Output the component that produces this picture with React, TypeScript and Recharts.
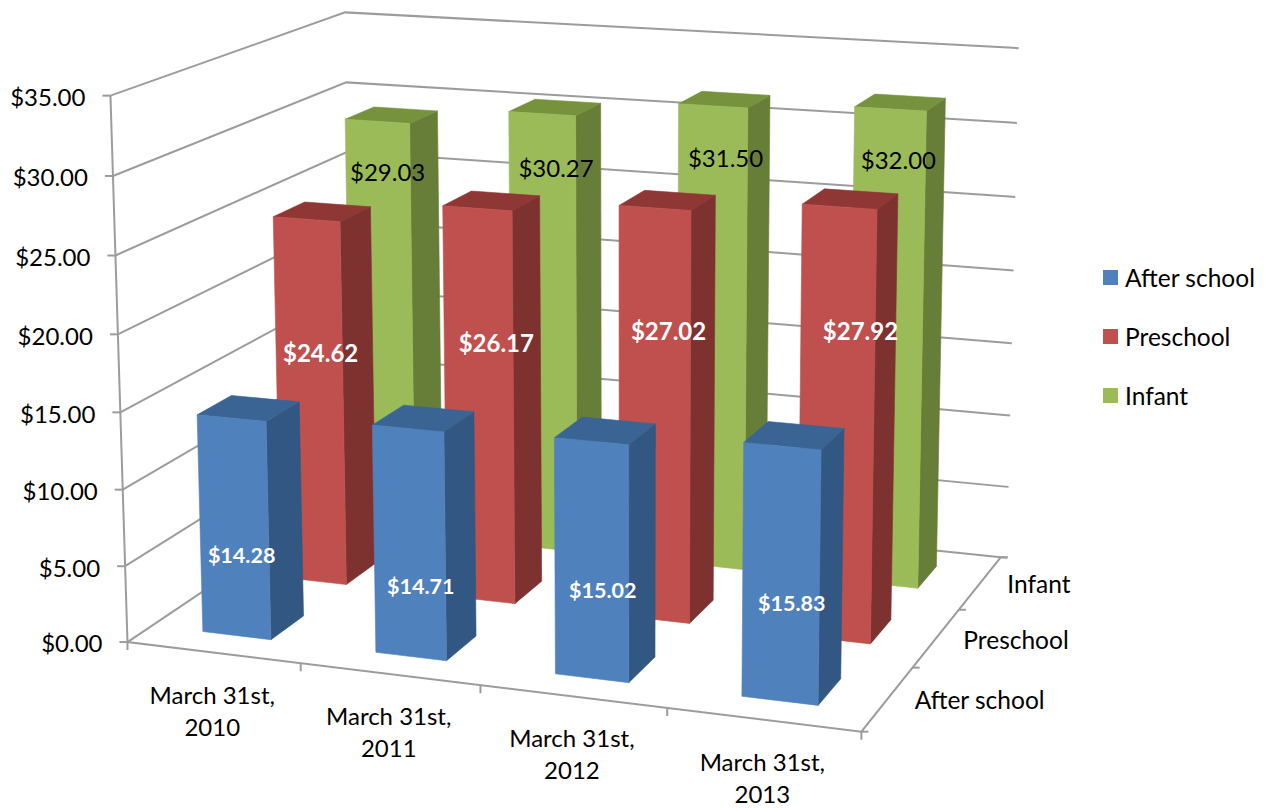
import { BarChart, Bar, XAxis, YAxis, CartesianGrid, Legend, LabelList } from "recharts";

const CATEGORIES = ["March 31st, 2010", "March 31st, 2011", "March 31st, 2012", "March 31st, 2013"];
const SERIES_NAMES = ["After school", "Preschool", "Infant"];
const AFTER_SCHOOL = [14.28, 14.71, 15.02, 15.83];
const PRESCHOOL = [24.62, 26.17, 27.02, 27.92];
const INFANT = [29.03, 30.27, 31.5, 32.0];
const Y_TICKS = [0, 5, 10, 15, 20, 25, 30, 35];

const rows = CATEGORIES.map((category, i) => ({
  category,
  "After school": AFTER_SCHOOL[i],
  Preschool: PRESCHOOL[i],
  Infant: INFANT[i],
}));

const FONT = "Lato, sans-serif";
const GRID = "#9c9c9c";

// plot rectangle handed to recharts, every mark is then projected from it
const PL = 128;
const PT = 97;
const PW = 734;
const PH = 543;
const BAR_SIZE = 73;
const BAR_DEPTH = 0.14;
const Y_AXIS_W = 60;
const X_AXIS_H = 40;

const STYLES = [
  { front: "#4f81bd", top: "#3a6494", side: "#315782", text: "#fff", weight: 700, size: 21.5, labelAt: 0.36 },
  { front: "#c0504d", top: "#8f3735", side: "#7e3230", text: "#fff", weight: 700, size: 24, labelAt: 0.66 },
  { front: "#9bbb59", top: "#76923c", side: "#677e38", text: "#000", weight: 400, size: 24, labelAt: 0.88 },
];

// the data labels were hand placed in the original, so each has its own nudge in px
const LABEL_NUDGE = [
  [[4, -3], [8, 11], [8, -4], [8, -7]],
  [[9, 9], [15, 0], [11, -19], [20, -25]],
  [[7, 1], [11, 1], [10, -4], [6, -7]],
];

// camera fit: cube position (u, v, w) -> where it lands in the picture
const ANCHORS = [
  [0, 0, 0, 128, 640],
  [0, 1, 0, 109, 97],
  [1, 0, 0, 861, 733],
  [0, 0, 1, 352, 493],
  [0, 1, 1, 347, 11],
  [1, 0, 1, 1000, 556],
  [1, 1, 1, 1012, 48],
  [0.25, 0, 0, 301, 662],
  [0.5, 0, 0, 480, 685],
  [0.75, 0, 0, 668, 709],
  [1, 0, 1 / 3, 913, 668],
  [1, 0, 2 / 3, 960, 609],
];

function solveCamera() {
  const n = 11;
  const m = Array.from({ length: n }, () => new Array(n + 1).fill(0));
  const add = (r: number[], b: number) => {
    for (let i = 0; i < n; i++) {
      for (let j = 0; j < n; j++) m[i][j] += r[i] * r[j];
      m[i][n] += r[i] * b;
    }
  };
  for (const [u, v, w, X, Y] of ANCHORS) {
    add([u, v, w, 1, 0, 0, 0, 0, -X * u, -X * v, -X * w], X);
    add([0, 0, 0, 0, u, v, w, 1, -Y * u, -Y * v, -Y * w], Y);
  }
  for (let c = 0; c < n; c++) {
    let p = c;
    for (let r = c + 1; r < n; r++) if (Math.abs(m[r][c]) > Math.abs(m[p][c])) p = r;
    [m[c], m[p]] = [m[p], m[c]];
    for (let r = 0; r < n; r++) {
      if (r === c) continue;
      const f = m[r][c] / m[c][c];
      for (let k = c; k <= n; k++) m[r][k] -= f * m[c][k];
    }
  }
  return m.map((row, i) => row[n] / row[i]);
}

const cam = solveCamera();

function project(u: number, v: number, w: number): [number, number] {
  const d = cam[8] * u + cam[9] * v + cam[10] * w + 1;
  return [
    (cam[0] * u + cam[1] * v + cam[2] * w + cam[3]) / d,
    (cam[4] * u + cam[5] * v + cam[6] * w + cam[7]) / d,
  ];
}

const pts = (list: [number, number][]) => list.map((p) => `${p[0]},${p[1]}`).join(" ");
const toU = (x: number) => (x - PL) / PW;
const toV = (y: number) => (PT + PH - y) / PH;
const rowCentre = (s: number) => (s + 0.5) / SERIES_NAMES.length;

const barShape = (s: number) => (props: any) => {
  const { x, y, width, height } = props;
  const st = STYLES[s];
  const u0 = toU(x);
  const u1 = toU(x + width);
  const vt = toV(y);
  const vb = toV(y + height);
  const w0 = rowCentre(s) - BAR_DEPTH / 2;
  const w1 = rowCentre(s) + BAR_DEPTH / 2;
  return (
    <g strokeWidth={0.6} strokeLinejoin="round">
      <polygon fill={st.side} stroke={st.side} points={pts([project(u1, vb, w0), project(u1, vb, w1), project(u1, vt, w1), project(u1, vt, w0)])} />
      <polygon fill={st.top} stroke={st.top} points={pts([project(u0, vt, w0), project(u1, vt, w0), project(u1, vt, w1), project(u0, vt, w1)])} />
      <polygon fill={st.front} stroke={st.front} points={pts([project(u0, vb, w0), project(u1, vb, w0), project(u1, vt, w0), project(u0, vt, w0)])} />
    </g>
  );
};

const barLabel = (s: number) => (props: any) => {
  const box = props.viewBox ?? props;
  const st = STYLES[s];
  const u = toU(box.x + box.width / 2);
  const vt = toV(box.y);
  const w0 = rowCentre(s) - BAR_DEPTH / 2;
  const [px, py] = project(u + 0.004, vt * st.labelAt, w0);
  const [dx, dy] = LABEL_NUDGE[s][props.index ?? 0];
  return (
    <text x={px + dx} y={py + dy} dy="0.35em" textAnchor="middle" fontFamily={FONT} fontSize={st.size} fontWeight={st.weight} fill={st.text}>
      ${Number(props.value).toFixed(2)}
    </text>
  );
};

function gridLine(props: any) {
  const v = toV(props.y1);
  const a = project(0, v, 0);
  const b = project(0, v, 1);
  const c = project(1, v, 1);
  return (
    <g key={props.key}>
      <polyline fill="none" stroke={GRID} strokeWidth={2} points={pts([a, b, c, [c[0] + 6, c[1] + 0.5]])} />
      <line x1={a[0] - 8} y1={a[1]} x2={a[0]} y2={a[1]} stroke={GRID} strokeWidth={2} />
    </g>
  );
}

function yTick(props: any) {
  const v = toV(props.y);
  const [px, py] = project(0, v, 0);
  return (
    <text x={px - 25} y={py + 2} dy="0.35em" textAnchor="end" fontFamily={FONT} fontSize={24} fill="#000">
      ${Number(props.payload.value).toFixed(2)}
    </text>
  );
}

function xTick(props: any) {
  const [px, py] = project(toU(props.x), 0, 0);
  const [first, second] = String(props.payload.value).split(" 31st, ");
  return (
    <text textAnchor="middle" fontFamily={FONT} fontSize={24} fill="#000">
      <tspan x={px - 1} y={py + 51}>{first} 31st,</tspan>
      <tspan x={px - 1} y={py + 83}>{second}</tspan>
    </text>
  );
}

// axis lines and the depth axis, recharts has no third axis of its own
function Frame() {
  const steps = CATEGORIES.map((_, i) => i / CATEGORIES.length).concat(1);
  const depth = SERIES_NAMES.map((_, i) => i / SERIES_NAMES.length).concat(1);
  return (
    <g>
      <polyline fill="none" stroke={GRID} strokeWidth={2} points={pts([project(0, 1, 0), project(0, 0, 0), project(1, 0, 0), project(1, 0, 1)])} />
      {steps.map((u) => {
        const [px, py] = project(u, 0, 0);
        return <line key={u} x1={px} y1={py} x2={px} y2={py + 8} stroke={GRID} strokeWidth={2} />;
      })}
      {depth.map((w) => {
        const [px, py] = project(1, 0, w);
        return <line key={w} x1={px} y1={py} x2={px + 7} y2={py} stroke={GRID} strokeWidth={2} />;
      })}
      {SERIES_NAMES.map((name, s) => {
        const [px, py] = project(1, 0, rowCentre(s));
        return (
          <text key={name} x={px + 27} y={py + 2} dy="0.35em" fontFamily={FONT} fontSize={24.5} fill="#000">
            {name}
          </text>
        );
      })}
    </g>
  );
}

function renderLegend() {
  return (
    <div style={{ fontFamily: FONT, fontSize: 24.5, color: "#000" }}>
      {SERIES_NAMES.map((name, s) => (
        <div key={name} style={{ display: "flex", alignItems: "center", height: 59 }}>
          <span style={{ width: 15, height: 15, background: STYLES[s].front, marginRight: 7 }} />
          {name}
        </div>
      ))}
    </div>
  );
}

export default function App() {
  return (
    <div style={{ position: "absolute", left: 0, top: 0 }}>
      <BarChart
        width={1269}
        height={808}
        data={rows}
        barSize={BAR_SIZE}
        barGap={-BAR_SIZE}
        margin={{ top: PT, left: PL - Y_AXIS_W, right: 1269 - PL - PW, bottom: 808 - PT - PH - X_AXIS_H }}
      >
        <CartesianGrid vertical={false} horizontal={gridLine} />
        <Frame />
        <XAxis dataKey="category" height={X_AXIS_H} axisLine={false} tickLine={false} tick={xTick} interval={0} />
        <YAxis type="number" domain={[0, 35]} ticks={Y_TICKS} width={Y_AXIS_W} axisLine={false} tickLine={false} tick={yTick} />
        <Legend
          layout="horizontal"
          align="center"
          verticalAlign="middle"
          content={renderLegend}
          wrapperStyle={{ left: 1103, top: 248, width: 166 }}
        />
        {[2, 1, 0].map((s) => (
          <Bar key={s} dataKey={SERIES_NAMES[s]} fill={STYLES[s].front} isAnimationActive={false} shape={barShape(s)}>
            <LabelList dataKey={SERIES_NAMES[s]} content={barLabel(s)} />
          </Bar>
        ))}
      </BarChart>
    </div>
  );
}
